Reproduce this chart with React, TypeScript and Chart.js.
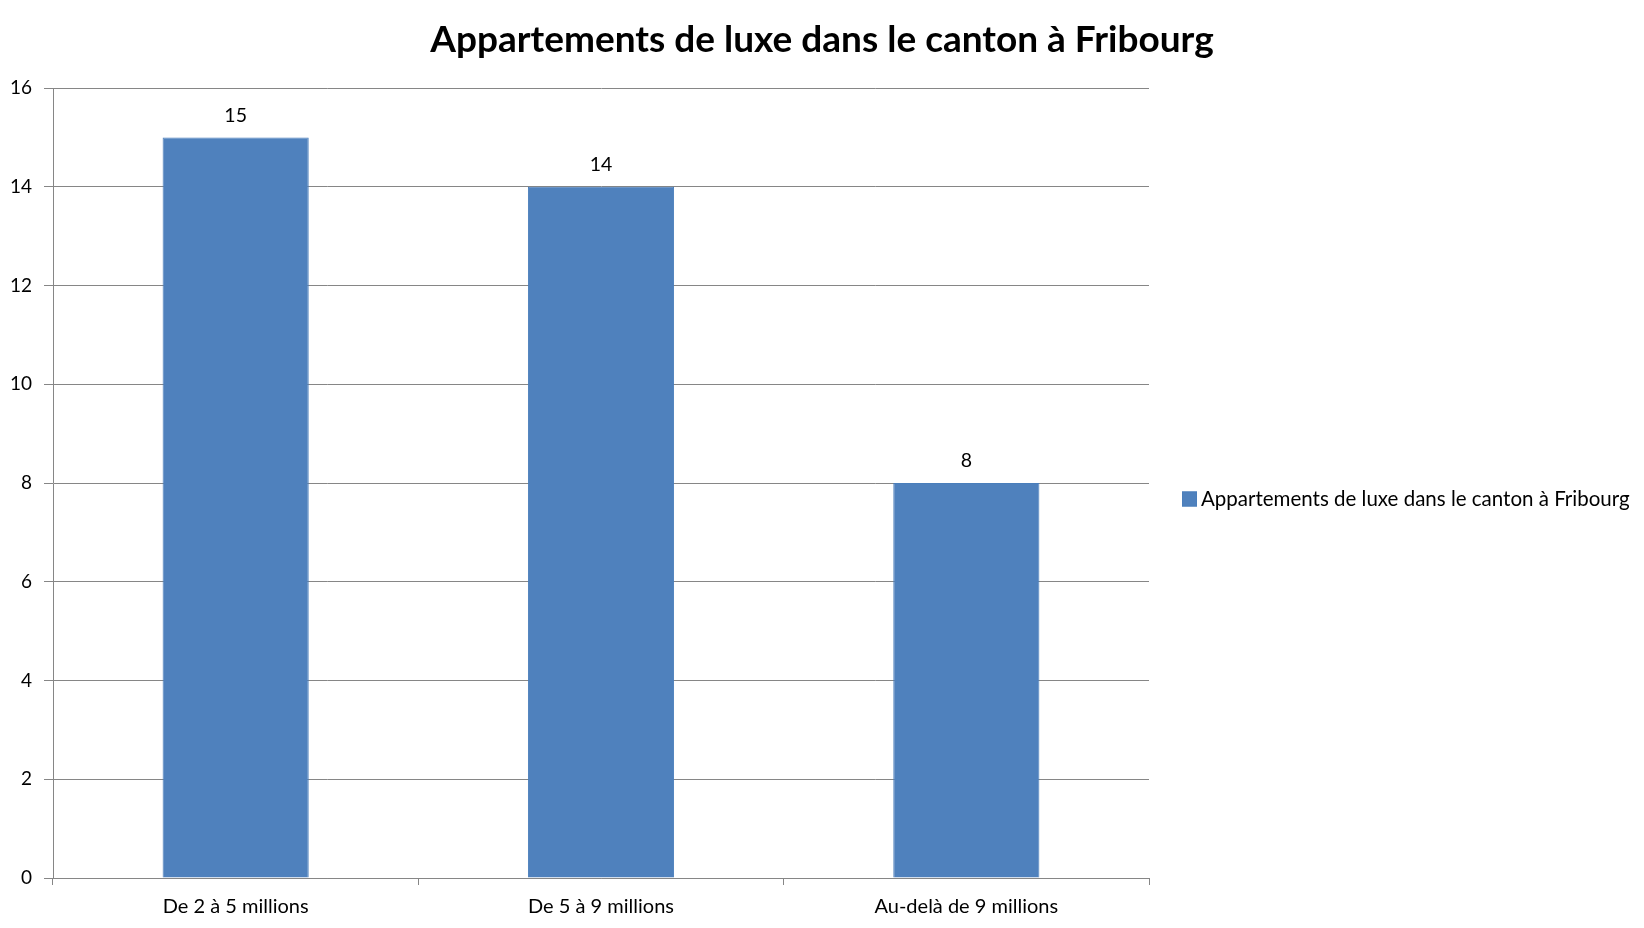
import React, { useEffect, useRef } from "react";
import { Chart, registerables } from "chart.js";

Chart.register(...registerables);

const titleText = "Appartements de luxe dans le canton à Fribourg";
const seriesLabel = "Appartements de luxe dans le canton à Fribourg";
const categories = ["De 2 à 5 millions", "De 5 à 9 millions", "Au-delà de 9 millions"];
const values = [15, 14, 8];
const yMin = 0;
const yMax = 16;
const yStep = 2;

const FONT = "Lato, 'Open Sans', 'Liberation Sans', sans-serif";
const BAR = "#4F81BD";
const AXIS = "#868686";

const valueLabels = {
  id: "valueLabels",
  afterDatasetsDraw(chart: any) {
    const ctx = chart.ctx;
    ctx.save();
    ctx.font = `19.5px ${FONT}`;
    ctx.fillStyle = "#000";
    ctx.textAlign = "center";
    ctx.textBaseline = "middle";
    chart.data.datasets.forEach((ds: any, di: number) => {
      const meta = chart.getDatasetMeta(di);
      meta.data.forEach((el: any, i: number) => {
        ctx.fillText(String(ds.data[i]), el.x, el.y - 22);
      });
    });
    ctx.restore();
  },
};

const centerTitle = {
  id: "centerTitle",
  afterDraw(chart: any, _args: any, opts: any) {
    const ctx = chart.ctx;
    ctx.save();
    ctx.font = `bold 37px ${FONT}`;
    ctx.fillStyle = "#000";
    ctx.textAlign = "center";
    ctx.textBaseline = "middle";
    ctx.fillText(opts.text, chart.width / 2, opts.y);
    ctx.restore();
  },
};

const sideLegend = {
  id: "sideLegend",
  afterDraw(chart: any, _args: any, opts: any) {
    const ctx = chart.ctx;
    ctx.save();
    const ds = chart.data.datasets[0];
    const x = opts.x;
    const y = opts.y;
    const box = 15;
    ctx.fillStyle = ds.backgroundColor;
    ctx.strokeStyle = ds.borderColor;
    ctx.lineWidth = 1;
    ctx.fillRect(x, y - box / 2, box, box);
    ctx.strokeRect(x + 0.5, y - box / 2 + 0.5, box - 1, box - 1);
    ctx.font = `20.5px ${FONT}`;
    ctx.fillStyle = "#000";
    ctx.textAlign = "left";
    ctx.textBaseline = "middle";
    ctx.fillText(ds.label, x + box + 4, y);
    ctx.restore();
  },
};

export default function App() {
  const ref = useRef<HTMLCanvasElement | null>(null);

  useEffect(() => {
    if (!ref.current) return;
    const chart = new Chart(ref.current, {
      type: "bar",
      data: {
        labels: categories,
        datasets: [
          {
            label: seriesLabel,
            data: values,
            backgroundColor: BAR,
            borderColor: "#4A7EBB",
            borderWidth: 1,
            barPercentage: 0.4,
            categoryPercentage: 1,
          },
        ],
      },
      options: {
        responsive: false,
        animation: false,
        devicePixelRatio: 1,
        layout: { padding: { left: 0, right: 495, top: 88, bottom: 0 } },
        plugins: {
          legend: { display: false },
          tooltip: { enabled: false },
          title: { display: false },
          centerTitle: { text: titleText, y: 40 },
          sideLegend: { x: 1182, y: 499 },
        } as any,
        scales: {
          x: {
            grid: {
              display: true,
              drawOnChartArea: false,
              drawTicks: true,
              tickLength: 7,
              color: AXIS,
              offset: true,
            },
            border: { display: true, color: AXIS, width: 1 },
            ticks: {
              color: "#000",
              font: { family: FONT, size: 20 },
              padding: 10,
              maxRotation: 0,
            },
            afterFit: (s: any) => {
              s.height = 50;
            },
          },
          y: {
            min: yMin,
            max: yMax,
            grid: {
              color: AXIS,
              tickLength: 9,
              drawTicks: true,
            },
            border: { display: true, color: AXIS, width: 1 },
            ticks: {
              stepSize: yStep,
              color: "#000",
              font: { family: FONT, size: 19 },
              padding: 12,
            },
            afterFit: (s: any) => {
              s.width = 53;
            },
          },
        },
      },
      plugins: [valueLabels, centerTitle, sideLegend],
    });
    return () => chart.destroy();
  }, []);

  return (
    <div style={{ position: "fixed", left: 0, top: 0, width: 1644, height: 928, background: "#fff" }}>
      <canvas ref={ref} width={1644} height={928} style={{ width: 1644, height: 928, display: "block" }} />
    </div>
  );
}
